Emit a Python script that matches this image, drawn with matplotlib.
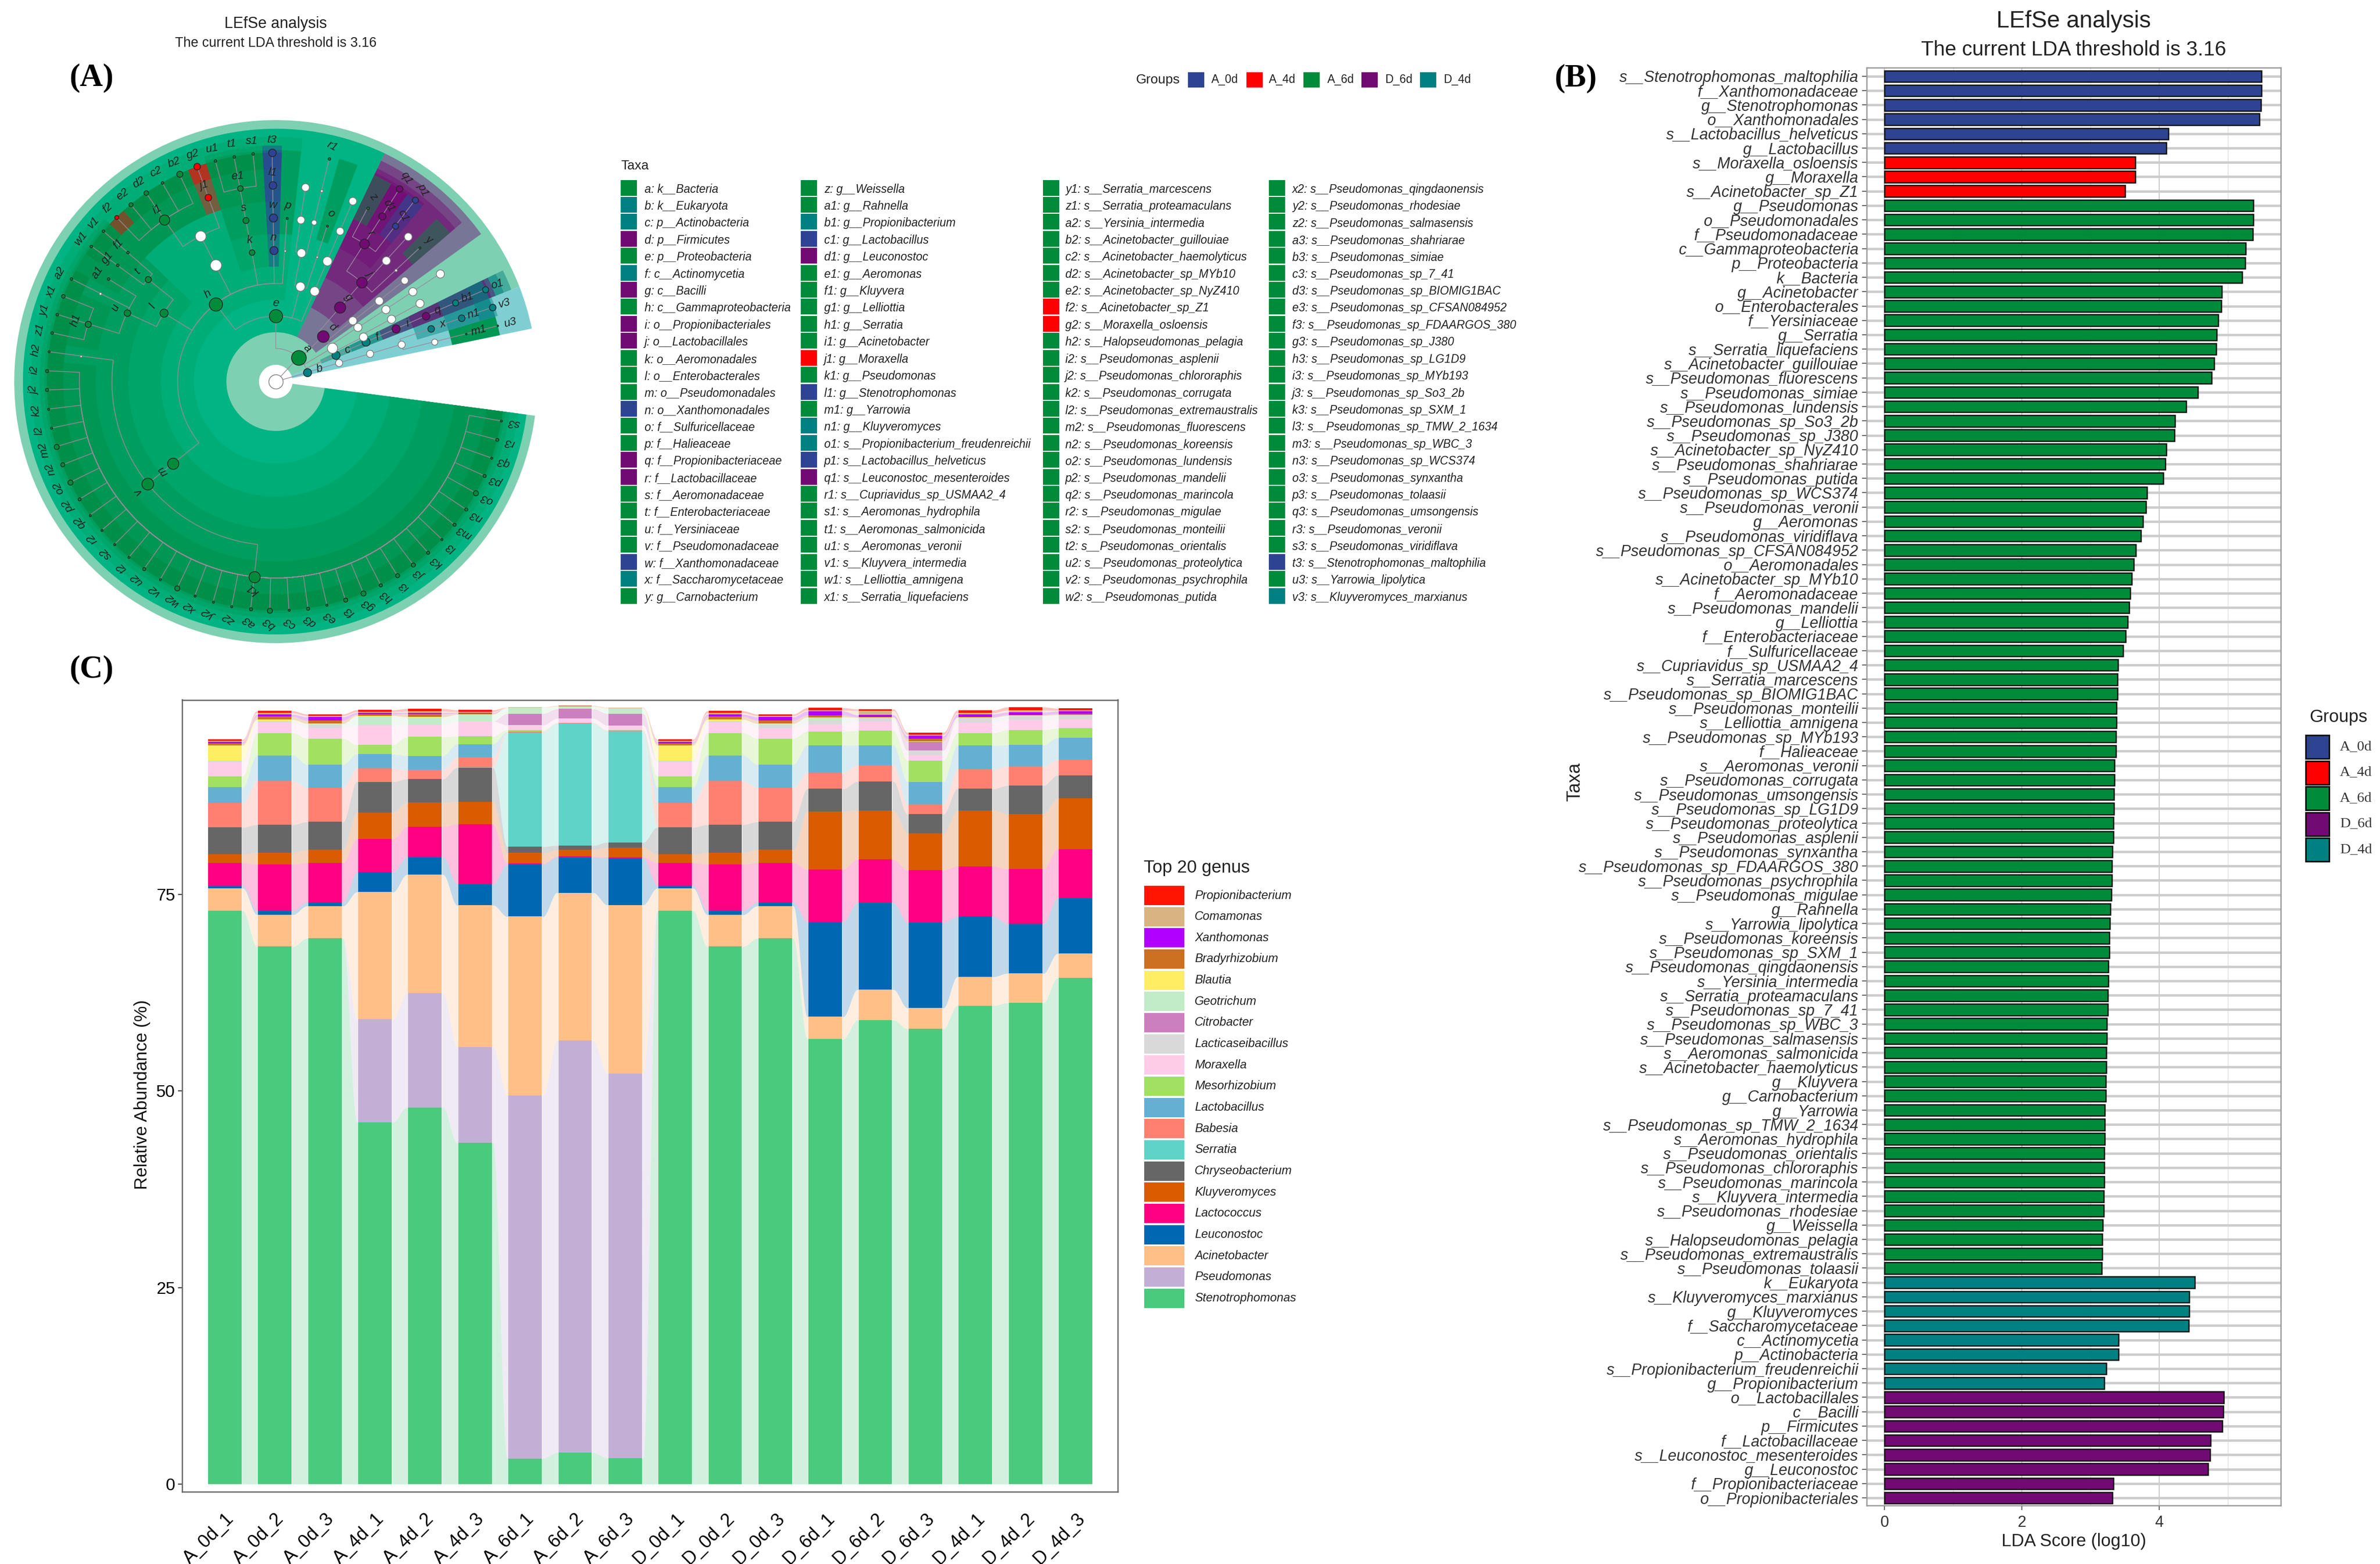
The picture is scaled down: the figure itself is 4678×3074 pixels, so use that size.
import matplotlib
matplotlib.use("Agg")
import matplotlib.pyplot as plt
from matplotlib.patches import Wedge, Rectangle
import numpy as np

W, H = 4678, 3074
plt.rcParams['font.family'] = ['Liberation Sans', 'DejaVu Sans']
NARROW = ['Liberation Sans Narrow', 'Liberation Sans', 'DejaVu Sans']
SERIF = ['Liberation Serif', 'DejaVu Serif']

group_names = ['A_0d', 'A_4d', 'A_6d', 'D_6d', 'D_4d']
group_colors = {'A_0d': '#2E4392', 'A_4d': '#FF0000', 'A_6d': '#008B3A',
                'D_6d': '#720A74', 'D_4d': '#008080'}
group_code = {'B': 'A_0d', 'R': 'A_4d', 'G': 'A_6d', 'P': 'D_6d', 'T': 'D_4d'}

# ---- panel B data, top bar first
lda_names_blue = ['s__Stenotrophomonas_maltophilia', 'f__Xanthomonadaceae', 'g__Stenotrophomonas',
                  'o__Xanthomonadales', 's__Lactobacillus_helveticus', 'g__Lactobacillus']
lda_vals_blue = [5.49, 5.485, 5.48, 5.46, 4.13, 4.10]
lda_names_red = ['s__Moraxella_osloensis', 'g__Moraxella', 's__Acinetobacter_sp_Z1']
lda_vals_red = [3.65, 3.65, 3.50]
lda_names_green = [
    'g__Pseudomonas', 'o__Pseudomonadales', 'f__Pseudomonadaceae', 'c__Gammaproteobacteria',
    'p__Proteobacteria', 'k__Bacteria', 'g__Acinetobacter', 'o__Enterobacterales', 'f__Yersiniaceae',
    'g__Serratia', 's__Serratia_liquefaciens', 's__Acinetobacter_guillouiae', 's__Pseudomonas_fluorescens',
    's__Pseudomonas_simiae', 's__Pseudomonas_lundensis', 's__Pseudomonas_sp_So3_2b', 's__Pseudomonas_sp_J380',
    's__Acinetobacter_sp_NyZ410', 's__Pseudomonas_shahriarae', 's__Pseudomonas_putida', 's__Pseudomonas_sp_WCS374',
    's__Pseudomonas_veronii', 'g__Aeromonas', 's__Pseudomonas_viridiflava', 's__Pseudomonas_sp_CFSAN084952',
    'o__Aeromonadales', 's__Acinetobacter_sp_MYb10', 'f__Aeromonadaceae', 's__Pseudomonas_mandelii', 'g__Lelliottia',
    'f__Enterobacteriaceae', 'f__Sulfuricellaceae', 's__Cupriavidus_sp_USMAA2_4', 's__Serratia_marcescens',
    's__Pseudomonas_sp_BIOMIG1BAC', 's__Pseudomonas_monteilii', 's__Lelliottia_amnigena', 's__Pseudomonas_sp_MYb193',
    'f__Halieaceae', 's__Aeromonas_veronii', 's__Pseudomonas_corrugata', 's__Pseudomonas_umsongensis',
    's__Pseudomonas_sp_LG1D9', 's__Pseudomonas_proteolytica', 's__Pseudomonas_asplenii', 's__Pseudomonas_synxantha',
    's__Pseudomonas_sp_FDAARGOS_380', 's__Pseudomonas_psychrophila', 's__Pseudomonas_migulae', 'g__Rahnella',
    's__Yarrowia_lipolytica', 's__Pseudomonas_koreensis', 's__Pseudomonas_sp_SXM_1', 's__Pseudomonas_qingdaonensis',
    's__Yersinia_intermedia', 's__Serratia_proteamaculans', 's__Pseudomonas_sp_7_41', 's__Pseudomonas_sp_WBC_3',
    's__Pseudomonas_salmasensis', 's__Aeromonas_salmonicida', 's__Acinetobacter_haemolyticus', 'g__Kluyvera',
    'g__Carnobacterium', 'g__Yarrowia', 's__Pseudomonas_sp_TMW_2_1634', 's__Aeromonas_hydrophila',
    's__Pseudomonas_orientalis', 's__Pseudomonas_chlororaphis', 's__Pseudomonas_marincola', 's__Kluyvera_intermedia',
    's__Pseudomonas_rhodesiae', 'g__Weissella', 's__Halopseudomonas_pelagia', 's__Pseudomonas_extremaustralis',
    's__Pseudomonas_tolaasii']
lda_vals_green = [
    5.37, 5.37, 5.365, 5.26, 5.25, 5.21, 4.91, 4.90, 4.86, 4.84, 4.83, 4.80, 4.76, 4.56, 4.39, 4.23, 4.22, 4.10, 4.09,
    4.06, 3.82, 3.81, 3.76, 3.73, 3.66, 3.63, 3.60, 3.58, 3.56, 3.54, 3.51, 3.47, 3.40, 3.39, 3.39, 3.38, 3.38, 3.37,
    3.37, 3.35, 3.35, 3.34, 3.34, 3.33, 3.33, 3.32, 3.31, 3.31, 3.30, 3.29, 3.28, 3.27, 3.27, 3.26, 3.26, 3.25, 3.25,
    3.24, 3.24, 3.23, 3.23, 3.22, 3.22, 3.21, 3.21, 3.21, 3.20, 3.20, 3.20, 3.19, 3.19, 3.18, 3.17, 3.17, 3.16]
lda_names_teal = ['k__Eukaryota', 's__Kluyveromyces_marxianus', 'g__Kluyveromyces', 'f__Saccharomycetaceae',
                  'c__Actinomycetia', 'p__Actinobacteria', 's__Propionibacterium_freudenreichii', 'g__Propionibacterium']
lda_vals_teal = [4.52, 4.44, 4.44, 4.43, 3.41, 3.41, 3.23, 3.20]
lda_names_purple = ['o__Lactobacillales', 'c__Bacilli', 'p__Firmicutes', 'f__Lactobacillaceae',
                    's__Leuconostoc_mesenteroides', 'g__Leuconostoc', 'f__Propionibacteriaceae', 'o__Propionibacteriales']
lda_vals_purple = [4.94, 4.93, 4.92, 4.75, 4.74, 4.71, 3.33, 3.32]

# ---- panel C data, cumulative tops of the stack for each sample (bottom genus first)
genus = ['Stenotrophomonas', 'Pseudomonas', 'Acinetobacter', 'Leuconostoc', 'Lactococcus', 'Kluyveromyces',
         'Chryseobacterium', 'Serratia', 'Babesia', 'Lactobacillus', 'Mesorhizobium', 'Moraxella',
         'Lacticaseibacillus', 'Citrobacter', 'Geotrichum', 'Blautia', 'Bradyrhizobium', 'Xanthomonas',
         'Comamonas', 'Propionibacterium']
genus_colors = ['#4ACA7C', '#C3AFD6', '#FFBF87', '#0068B2', '#FF0082', '#DA5B00', '#666666', '#5FD3C7', '#FF8070',
                '#64B0D3', '#A1E060', '#FFCCE8', '#D9D9D9', '#CC7FBF', '#C2EBC8', '#FFED63', '#CC7022', '#B000FF',
                '#D8B483', '#FF1500']
samples = ['A_0d_1', 'A_0d_2', 'A_0d_3', 'A_4d_1', 'A_4d_2', 'A_4d_3', 'A_6d_1', 'A_6d_2', 'A_6d_3',
           'D_0d_1', 'D_0d_2', 'D_0d_3', 'D_6d_1', 'D_6d_2', 'D_6d_3', 'D_4d_1', 'D_4d_2', 'D_4d_3']
top_A_0d_1 = [72.9, 72.9, 75.76, 76.1, 79.0, 80.1, 83.5, 83.5, 86.6, 88.6, 90.0, 91.8, 91.9, 91.9, 92.0, 93.95, 94.2, 94.4, 94.5, 94.7]
top_A_0d_2 = [68.35, 68.35, 72.4, 72.9, 78.8, 80.3, 83.85, 83.85, 89.4, 92.65, 95.5, 96.85, 97.0, 97.0, 97.05, 97.2, 97.6, 97.85, 98.07, 98.3]
top_A_0d_3 = [69.4, 69.4, 73.5, 73.97, 79.0, 80.65, 84.2, 84.2, 88.55, 91.5, 94.8, 96.15, 96.6, 96.6, 96.65, 96.7, 97.1, 97.55, 97.7, 97.9]
top_A_4d_1 = [46.0, 59.1, 75.27, 77.8, 82.05, 85.4, 89.3, 89.3, 91.0, 92.8, 94.0, 96.45, 96.5, 96.5, 97.65, 97.7, 97.87, 98.1, 98.2, 98.44]
top_A_4d_2 = [47.9, 62.43, 77.5, 79.75, 83.6, 86.67, 89.66, 89.66, 90.8, 92.6, 95.0, 96.5, 96.55, 96.55, 97.5, 97.54, 97.94, 98.1, 98.27, 98.6]
top_A_4d_3 = [43.4, 55.6, 73.6, 76.3, 83.9, 86.77, 91.1, 91.13, 92.45, 94.08, 95.08, 96.97, 97.0, 97.0, 97.85, 97.87, 98.0, 98.1, 98.2, 98.44]
top_A_6d_1 = [3.27, 49.4, 72.17, 78.8, 78.9, 80.25, 81.05, 95.55, 95.6, 95.65, 95.88, 96.45, 96.5, 97.97, 98.72, 98.74, 98.74, 98.74, 98.75, 98.77]
top_A_6d_2 = [4.02, 56.4, 75.2, 79.7, 79.8, 80.65, 81.2, 96.7, 96.75, 96.75, 96.8, 97.34, 97.36, 98.57, 98.87, 98.9, 98.9, 98.9, 98.92, 98.97]
top_A_6d_3 = [3.32, 52.2, 73.64, 79.6, 79.7, 80.95, 81.6, 95.75, 95.8, 95.8, 95.88, 96.45, 96.48, 97.97, 98.67, 98.68, 98.68, 98.68, 98.7, 98.74]
top_D_6d_1 = [56.6, 56.6, 59.44, 71.5, 78.16, 85.54, 88.4, 88.4, 90.46, 93.95, 95.7, 96.6, 97.07, 97.07, 97.5, 97.52, 97.77, 98.27, 98.4, 98.7]
top_D_6d_2 = [59.0, 59.0, 62.87, 73.94, 79.42, 85.67, 89.33, 89.33, 91.42, 93.95, 95.78, 96.94, 97.4, 97.4, 97.45, 97.47, 97.54, 97.8, 98.34, 98.54]
top_D_6d_3 = [57.9, 57.9, 60.54, 71.4, 78.06, 82.75, 85.17, 85.17, 86.44, 89.3, 92.02, 92.72, 93.3, 94.38, 94.4, 94.42, 94.8, 95.15, 95.3, 95.58]
top_D_4d_1 = [60.84, 60.84, 64.5, 72.17, 78.56, 85.67, 88.4, 88.4, 90.86, 93.9, 95.5, 96.84, 97.4, 97.4, 97.45, 97.47, 97.54, 97.9, 98.07, 98.4]
top_D_4d_2 = [61.2, 61.2, 64.93, 71.24, 78.2, 85.2, 88.83, 88.83, 91.29, 93.98, 95.9, 97.17, 97.67, 97.67, 97.7, 97.72, 97.84, 98.14, 98.4, 98.8]
top_D_4d_3 = [64.36, 64.36, 67.45, 74.53, 80.75, 87.2, 90.1, 90.1, 92.09, 94.88, 96.1, 97.24, 97.77, 97.77, 97.8, 97.82, 97.94, 98.27, 98.37, 98.64]
tops = np.array([top_A_0d_1, top_A_0d_2, top_A_0d_3, top_A_4d_1, top_A_4d_2, top_A_4d_3,
                 top_A_6d_1, top_A_6d_2, top_A_6d_3, top_A_0d_1, top_A_0d_2, top_A_0d_3,
                 top_D_6d_1, top_D_6d_2, top_D_6d_3, top_D_4d_1, top_D_4d_2, top_D_4d_3])

# ---- panel A legend
taxa_col1 = ['a: k__Bacteria', 'b: k__Eukaryota', 'c: p__Actinobacteria', 'd: p__Firmicutes', 'e: p__Proteobacteria',
             'f: c__Actinomycetia', 'g: c__Bacilli', 'h: c__Gammaproteobacteria', 'i: o__Propionibacteriales',
             'j: o__Lactobacillales', 'k: o__Aeromonadales', 'l: o__Enterobacterales', 'm: o__Pseudomonadales',
             'n: o__Xanthomonadales', 'o: f__Sulfuricellaceae', 'p: f__Halieaceae', 'q: f__Propionibacteriaceae',
             'r: f__Lactobacillaceae', 's: f__Aeromonadaceae', 't: f__Enterobacteriaceae', 'u: f__Yersiniaceae',
             'v: f__Pseudomonadaceae', 'w: f__Xanthomonadaceae', 'x: f__Saccharomycetaceae', 'y: g__Carnobacterium']
taxa_col1_groups = 'GTTPGTPGPPGGGBGGPPGGGGBTG'
taxa_col2 = ['z: g__Weissella', 'a1: g__Rahnella', 'b1: g__Propionibacterium', 'c1: g__Lactobacillus', 'd1: g__Leuconostoc',
             'e1: g__Aeromonas', 'f1: g__Kluyvera', 'g1: g__Lelliottia', 'h1: g__Serratia', 'i1: g__Acinetobacter',
             'j1: g__Moraxella', 'k1: g__Pseudomonas', 'l1: g__Stenotrophomonas', 'm1: g__Yarrowia', 'n1: g__Kluyveromyces',
             'o1: s__Propionibacterium_freudenreichii', 'p1: s__Lactobacillus_helveticus', 'q1: s__Leuconostoc_mesenteroides',
             'r1: s__Cupriavidus_sp_USMAA2_4', 's1: s__Aeromonas_hydrophila', 't1: s__Aeromonas_salmonicida',
             'u1: s__Aeromonas_veronii', 'v1: s__Kluyvera_intermedia', 'w1: s__Lelliottia_amnigena', 'x1: s__Serratia_liquefaciens']
taxa_col2_groups = 'GGTBPGGGGGRGBGTTBPGGGGGGG'
taxa_col3 = ['y1: s__Serratia_marcescens', 'z1: s__Serratia_proteamaculans', 'a2: s__Yersinia_intermedia',
             'b2: s__Acinetobacter_guillouiae', 'c2: s__Acinetobacter_haemolyticus', 'd2: s__Acinetobacter_sp_MYb10',
             'e2: s__Acinetobacter_sp_NyZ410', 'f2: s__Acinetobacter_sp_Z1', 'g2: s__Moraxella_osloensis',
             'h2: s__Halopseudomonas_pelagia', 'i2: s__Pseudomonas_asplenii', 'j2: s__Pseudomonas_chlororaphis',
             'k2: s__Pseudomonas_corrugata', 'l2: s__Pseudomonas_extremaustralis', 'm2: s__Pseudomonas_fluorescens',
             'n2: s__Pseudomonas_koreensis', 'o2: s__Pseudomonas_lundensis', 'p2: s__Pseudomonas_mandelii',
             'q2: s__Pseudomonas_marincola', 'r2: s__Pseudomonas_migulae', 's2: s__Pseudomonas_monteilii',
             't2: s__Pseudomonas_orientalis', 'u2: s__Pseudomonas_proteolytica', 'v2: s__Pseudomonas_psychrophila',
             'w2: s__Pseudomonas_putida']
taxa_col3_groups = 'GGGGGGGRRGGGGGGGGGGGGGGGG'
taxa_col4 = ['x2: s__Pseudomonas_qingdaonensis', 'y2: s__Pseudomonas_rhodesiae', 'z2: s__Pseudomonas_salmasensis',
             'a3: s__Pseudomonas_shahriarae', 'b3: s__Pseudomonas_simiae', 'c3: s__Pseudomonas_sp_7_41',
             'd3: s__Pseudomonas_sp_BIOMIG1BAC', 'e3: s__Pseudomonas_sp_CFSAN084952', 'f3: s__Pseudomonas_sp_FDAARGOS_380',
             'g3: s__Pseudomonas_sp_J380', 'h3: s__Pseudomonas_sp_LG1D9', 'i3: s__Pseudomonas_sp_MYb193',
             'j3: s__Pseudomonas_sp_So3_2b', 'k3: s__Pseudomonas_sp_SXM_1', 'l3: s__Pseudomonas_sp_TMW_2_1634',
             'm3: s__Pseudomonas_sp_WBC_3', 'n3: s__Pseudomonas_sp_WCS374', 'o3: s__Pseudomonas_synxantha',
             'p3: s__Pseudomonas_tolaasii', 'q3: s__Pseudomonas_umsongensis', 'r3: s__Pseudomonas_veronii',
             's3: s__Pseudomonas_viridiflava', 't3: s__Stenotrophomonas_maltophilia', 'u3: s__Yarrowia_lipolytica',
             'v3: s__Kluyveromyces_marxianus']
taxa_col4_groups = 'GGGGGGGGGGGGGGGGGGGGGGBGT'

# ---- cladogram: highlighted clades (rank, first tip, last tip, group)
clades = [
    (1, 2, 70, 'A_6d'), (1, 0, 1, 'D_4d'),
    (2, 11, 70, 'A_6d'), (2, 5, 10, 'D_6d'), (2, 2, 2, 'D_4d'),
    (3, 15, 70, 'A_6d'), (3, 6, 10, 'D_6d'), (3, 2, 2, 'D_4d'),
    (4, 33, 70, 'A_6d'), (4, 26, 32, 'A_6d'), (4, 17, 19, 'A_6d'), (4, 6, 10, 'D_6d'), (4, 2, 2, 'D_6d'), (4, 16, 16, 'A_0d'),
    (5, 33, 70, 'A_6d'), (5, 28, 32, 'A_6d'), (5, 26, 27, 'A_6d'), (5, 17, 19, 'A_6d'), (5, 15, 15, 'A_6d'), (5, 12, 12, 'A_6d'),
    (5, 8, 10, 'D_6d'), (5, 2, 2, 'D_6d'), (5, 16, 16, 'A_0d'), (5, 1, 1, 'D_4d'),
    (6, 34, 70, 'A_6d'), (6, 30, 32, 'A_6d'), (6, 28, 28, 'A_6d'), (6, 26, 27, 'A_6d'), (6, 21, 25, 'A_6d'), (6, 17, 19, 'A_6d'),
    (6, 10, 10, 'A_6d'), (6, 6, 6, 'A_6d'), (6, 0, 0, 'A_6d'), (6, 20, 20, 'A_4d'), (6, 16, 16, 'A_0d'), (6, 9, 9, 'D_6d'),
    (6, 8, 8, 'A_0d'), (6, 2, 2, 'D_4d'), (6, 1, 1, 'D_4d'),
    (7, 34, 70, 'A_6d'), (7, 29, 33, 'A_6d'), (7, 26, 27, 'A_6d'), (7, 21, 24, 'A_6d'), (7, 17, 19, 'A_6d'), (7, 25, 25, 'A_4d'),
    (7, 20, 20, 'A_4d'), (7, 16, 16, 'A_0d'), (7, 9, 9, 'D_6d'), (7, 8, 8, 'A_0d'), (7, 2, 2, 'D_4d'), (7, 1, 1, 'D_4d'),
]

# cladogram nodes: label ('_' means no text), rank, tip position, parent, group, radius in px
species_k1 = ['i2', 'j2', 'k2', 'l2', 'm2', 'n2', 'o2', 'p2', 'q2', 'r2', 's2', 't2', 'u2', 'v2', 'w2', 'x2', 'y2', 'z2',
              'a3', 'b3', 'c3', 'd3', 'e3', 'f3', 'g3', 'h3', 'i3', 'j3', 'k3', 'l3', 'm3', 'n3', 'o3', 'p3', 'q3', 'r3', 's3']
species_k1_size = [3, 3, 2, 2, 5, 4, 5, 3, 2, 2, 2, 2, 3, 2, 5, 2, 2, 2, 3, 5, 2, 3, 2, 4, 5, 3, 4, 4, 3, 2, 3, 3, 5, 3, 2, 3, 2]
nodes = [
    ('_root', 0, 0, None, 'none', 14),
    ('a', 1, 6.8, '_root', 'A_6d', 14.5), ('b', 1, 0.4, '_root', 'D_4d', 8),
    ('_p1', 2, 0.5, 'b', 'none', 7), ('_c1', 3, 0.5, '_p1', 'none', 7), ('_o1', 4, 0.5, '_c1', 'none', 7),
    ('_f1', 5, 0, '_o1', 'none', 6), ('x', 5, 1, '_o1', 'D_4d', 6.5), ('m1', 6, 0, '_f1', 'A_6d', 1.5),
    ('u3', 7, 0, 'm1', 'A_6d', 1.5), ('n1', 6, 1, 'x', 'D_4d', 6.5), ('v3', 7, 1, 'n1', 'D_4d', 6.5),
    ('c', 2, 2, 'a', 'D_4d', 8), ('f', 3, 2, 'c', 'D_4d', 8), ('i', 4, 2, 'f', 'D_6d', 8), ('q', 5, 2, 'i', 'D_6d', 7.5),
    ('b1', 6, 2, 'q', 'D_4d', 6), ('o1', 7, 2, 'b1', 'D_4d', 6),
    ('_p2', 2, 3.5, 'a', 'none', 10),
    ('_c3', 3, 2.7, '_p2', 'none', 8), ('_o3', 4, 3, '_c3', 'none', 8), ('_f3', 5, 3, '_o3', 'none', 8),
    ('_c4', 3, 4.05, '_p2', 'none', 8), ('_o4', 4, 4, '_c4', 'none', 8), ('_f4', 5, 4, '_o4', 'none', 8), ('_g4', 6, 4, '_f4', 'none', 8),
    ('_c5', 3, 5.1, '_p2', 'none', 8), ('_o5', 4, 5, '_c5', 'none', 8), ('_f5', 5, 5, '_o5', 'none', 7),
    ('d', 2, 6.2, 'a', 'D_6d', 11.5), ('g', 3, 7.3, 'd', 'D_6d', 11), ('j', 4, 7.3, 'g', 'D_6d', 10.5),
    ('_f6', 5, 6, 'j', 'none', 2.5), ('y', 6, 6, '_f6', 'A_6d', 2), ('_f7', 5, 7, 'j', 'none', 8), ('_g7', 6, 7, '_f7', 'none', 7.5),
    ('r', 5, 9, 'j', 'D_6d', 9.5), ('c1', 6, 8, 'r', 'A_0d', 6), ('p1', 7, 8, 'c1', 'A_0d', 6), ('d1', 6, 9, 'r', 'D_6d', 7),
    ('q1', 7, 9, 'd1', 'D_6d', 6.5), ('z', 6, 10, 'r', 'A_6d', 2.5),
    ('e', 2, 15.8, 'a', 'A_6d', 13),
    ('_c11', 3, 11, 'e', 'none', 9), ('_o11', 4, 11, '_c11', 'none', 9), ('_f11', 5, 11, '_o11', 'none', 7.5), ('_g11', 6, 11, '_f11', 'none', 7.5),
    ('_c13', 3, 12.8, 'e', 'none', 9), ('_o12', 4, 12, '_c13', 'none', 2), ('o', 5, 12, '_o12', 'A_6d', 2),
    ('_o13', 4, 13.5, '_c13', 'none', 8.5), ('_f13', 5, 13, '_o13', 'none', 5), ('_g13', 6, 13, '_f13', 'none', 2.5), ('r1', 7, 13, '_g13', 'A_6d', 2.5),
    ('_f14', 5, 14, '_o13', 'none', 7.5), ('_g14', 6, 14, '_f14', 'none', 7.5),
    ('h', 3, 23.7, 'e', 'A_6d', 13),
    ('_o15', 4, 15, 'h', 'none', 2), ('p', 5, 15, '_o15', 'A_6d', 2),
    ('n', 4, 16, 'h', 'A_0d', 8), ('w', 5, 16, 'n', 'A_0d', 8), ('l1', 6, 16, 'w', 'A_0d', 7.5), ('t3', 7, 16, 'l1', 'A_0d', 7.5),
    ('k', 4, 18, 'h', 'A_6d', 5.5), ('s', 5, 18, 'k', 'A_6d', 6), ('e1', 6, 18, 's', 'A_6d', 5.5),
    ('s1', 7, 17, 'e1', 'A_6d', 2.5), ('t1', 7, 18, 'e1', 'A_6d', 2.5), ('u1', 7, 19, 'e1', 'A_6d', 2.5),
    ('_o21', 4, 21.5, 'h', 'none', 11), ('_f21', 5, 21.5, '_o21', 'none', 10.5),
    ('j1', 6, 20, '_f21', 'A_4d', 6.5), ('g2', 7, 20, 'j1', 'A_4d', 6.5), ('i1', 6, 23, '_f21', 'A_6d', 10),
    ('b2', 7, 21, 'i1', 'A_6d', 6), ('c2', 7, 22, 'i1', 'A_6d', 2.5), ('d2', 7, 23, 'i1', 'A_6d', 4.5), ('e2', 7, 24, 'i1', 'A_6d', 4), ('f2', 7, 25, 'i1', 'A_4d', 4),
    ('l', 4, 28, 'h', 'A_6d', 8), ('t', 5, 26.5, 'l', 'A_6d', 6), ('f1', 6, 26, 't', 'A_6d', 2.5), ('v1', 7, 26, 'f1', 'A_6d', 2.5),
    ('g1', 6, 27, 't', 'A_6d', 2.5), ('w1', 7, 27, 'g1', 'A_6d', 2.5),
    ('u', 5, 29.4, 'l', 'A_6d', 6.5), ('a1', 6, 28, 'u', 'A_6d', 2.5), ('_g29', 6, 29, 'u', 'none', 2.5), ('a2', 7, 29, '_g29', 'A_6d', 2.5),
    ('h1', 6, 31, 'u', 'A_6d', 6), ('x1', 7, 30, 'h1', 'A_6d', 3.5), ('y1', 7, 31, 'h1', 'A_6d', 2.5), ('z1', 7, 32, 'h1', 'A_6d', 2.5),
    ('m', 4, 42.6, 'h', 'A_6d', 11), ('v', 5, 42.6, 'm', 'A_6d', 11.5), ('_g33', 6, 33, 'v', 'none', 2), ('h2', 7, 33, '_g33', 'A_6d', 2),
    ('k1', 6, 52, 'v', 'A_6d', 11),
]
for i, nm in enumerate(species_k1):
    nodes.append((nm, 7, 34 + i, 'k1', 'A_6d', species_k1_size[i]))


def px_axes(l, t, r, b):
    return fig.add_axes([l / W, 1 - b / H, (r - l) / W, (b - t) / H])


def tip_angle(pos):
    return 14.1 + 4.8 * pos


fig = plt.figure(figsize=(W / 100, H / 100), dpi=100, facecolor='white')

# page axes in pixels for titles and hand placed legends
bg = fig.add_axes([0, 0, 1, 1])
bg.set_xlim(0, W)
bg.set_ylim(H, 0)
bg.axis('off')

# ---------------- panel A: cladogram
RANK_R = [0, 65, 129, 193, 258, 322, 386, 450]
RANK_OUT = [0, 514, 497, 481, 464, 455, 450, 450]
GREEN_RAMP = [None, '#7ED0B2', '#00B483', '#00AD76', '#00A56A', '#009E5E', '#009653', '#008F49']

clad = px_axes(0, 200, 1100, 1300)
clad.set_xlim(-542, 558)
clad.set_ylim(-550, 550)
clad.axis('off')

for rank, p0, p1, grp in sorted(clades, key=lambda c: c[0]):
    inner = RANK_R[rank] - 32
    outer = RANK_OUT[rank]
    if grp == 'A_6d' and not (5 <= p0 <= 10):
        fc, al = GREEN_RAMP[rank], 1.0
    elif rank == 1:
        fc, al = '#7FCFD2', 1.0
    else:
        fc, al = group_colors[grp], 0.45
    clad.add_patch(Wedge((0, 0), outer, tip_angle(p0 - 0.5), tip_angle(p1 + 0.5), width=outer - inner,
                         facecolor=fc, alpha=al, linewidth=0, zorder=rank))

node_by_name = {n[0]: n for n in nodes}


def node_xy(rank, pos):
    a = np.radians(tip_angle(pos))
    return RANK_R[rank] * np.cos(a), RANK_R[rank] * np.sin(a)


for name, rank, pos, parent, grp, size in nodes:
    if parent is None:
        continue
    pr = node_by_name[parent]
    arc = np.radians(np.linspace(tip_angle(pr[2]), tip_angle(pos), 30))
    rad = RANK_R[pr[1]]
    xs = list(rad * np.cos(arc)) + [node_xy(rank, pos)[0]]
    ys = list(rad * np.sin(arc)) + [node_xy(rank, pos)[1]]
    clad.plot(xs, ys, color='#9C8A9E', lw=1.0, zorder=10, solid_capstyle='round')

label_angles = [0, 14, 25, 53, 91, 134, 177, 197, 221, 263, 310, 350, 360]
label_rot = [10, 15, 18, -65, -5, 42, 88, 105, 130, 140, 140, 170, 180]
for name, rank, pos, parent, grp, size in nodes:
    x, y = node_xy(rank, pos)
    fc = 'white' if grp == 'none' else group_colors[grp]
    ec = '#777777' if grp == 'none' else '#222222'
    clad.scatter([x], [y], s=(2 * size * 0.72) ** 2, facecolor=fc, edgecolor=ec, linewidth=1.0, zorder=12)
    if name.startswith('_'):
        continue
    ang = tip_angle(pos)
    lr = RANK_R[rank] + 25
    clad.text(lr * np.cos(np.radians(ang)), lr * np.sin(np.radians(ang)), name, fontsize=16, style='italic',
              color='#222222', ha='center', va='center', rotation=np.interp(ang, label_angles, label_rot),
              rotation_mode='anchor', zorder=13)

bg.text(542, 47, 'LEfSe analysis', fontsize=22, color='#222222', ha='center', va='center')
bg.text(542, 85, 'The current LDA threshold is 3.16', fontsize=19.2, color='#222222', ha='center', va='center')

bg.text(2233, 157, 'Groups', fontsize=19, color='#222222', ha='left', va='center')
for sw_x, txt_x, g in zip([2335, 2450, 2562, 2676, 2791], [2381, 2494, 2609, 2722, 2837], group_names):
    bg.add_patch(Rectangle((sw_x, 142), 32, 30, facecolor=group_colors[g], edgecolor='none'))
    bg.text(txt_x, 157, g, fontsize=16.3, color='#222222', ha='left', va='center')

bg.text(1220, 326, 'Taxa', fontsize=18.6, color='#222222', ha='left', va='center')
taxa_columns = [(taxa_col1, taxa_col1_groups, 1220, 1267), (taxa_col2, taxa_col2_groups, 1574, 1620),
                (taxa_col3, taxa_col3_groups, 2050, 2094), (taxa_col4, taxa_col4_groups, 2494, 2540)]
for names, codes, sw_x, txt_x in taxa_columns:
    for row, (nm, code) in enumerate(zip(names, codes)):
        yc = 369 + 33.42 * row
        bg.add_patch(Rectangle((sw_x, yc - 15.5), 32, 31, facecolor=group_colors[group_code[code]], edgecolor='none'))
        bg.text(txt_x, yc + 3, nm, fontsize=16.3, style='italic', color='#222222', ha='left', va='center')

bg.text(180, 153, '(A)', fontsize=45, fontweight='bold', family=SERIF, ha='center', va='center', color='black')
bg.text(3097, 154, '(B)', fontsize=45, fontweight='bold', family=SERIF, ha='center', va='center', color='black')
bg.text(180, 1316, '(C)', fontsize=45, fontweight='bold', family=SERIF, ha='center', va='center', color='black')

# ---------------- panel C: stacked bars with flows
axc = px_axes(358, 1375.5, 2197, 2931.6)
x = np.arange(len(samples))
bar_w = 0.67
bottoms = np.hstack([np.zeros((len(samples), 1)), tops[:, :-1]])
heights = tops - bottoms
for k, name in enumerate(genus):
    axc.bar(x, heights[:, k], bottom=bottoms[:, k], width=bar_w, color=genus_colors[k], linewidth=0, zorder=3)
    for i in range(len(samples) - 1):
        xs = np.linspace(x[i] + bar_w / 2, x[i + 1] - bar_w / 2, 40)
        t = np.clip((xs - xs[0]) / (xs[-1] - xs[0]) * 1.2 - 0.1, 0, 1)
        s = t * t * (3 - 2 * t)
        low = bottoms[i, k] + (bottoms[i + 1, k] - bottoms[i, k]) * s
        upp = tops[i, k] + (tops[i + 1, k] - tops[i, k]) * s
        axc.fill_between(xs, low, upp, color=genus_colors[k], alpha=0.25, linewidth=0, zorder=2)
axc.set_xlim((358 - 442) / 98.35, (2197 - 442) / 98.35)
axc.set_ylim(-0.94, 99.72)
axc.set_yticks([0, 25, 50, 75])
axc.set_xticks(x)
axc.set_xticklabels(samples, rotation=45, ha='right', va='top', rotation_mode='anchor')
axc.tick_params(axis='y', labelsize=24, length=6, width=1.6, color='#444444', pad=4)
axc.tick_params(axis='x', labelsize=26, length=0, pad=26)
for sp in axc.spines.values():
    sp.set_color('#666666')
    sp.set_linewidth(1.8)
bg.text(279, 2151, 'Relative Abundance (%)', fontsize=25, color='#111111', ha='center', va='center', rotation=90)

bg.text(2248, 1705, 'Top 20 genus', fontsize=25, color='#222222', ha='left', va='center')
for row, k in enumerate(range(len(genus) - 1, -1, -1)):
    yc = 1760 + 41.66 * row
    bg.add_patch(Rectangle((2249, yc - 19), 79, 38, facecolor=genus_colors[k], edgecolor='none'))
    bg.text(2348, yc, genus[k], fontsize=17, style='italic', color='#222222', ha='left', va='center')

# ---------------- panel B: LDA bars
lda_names = lda_names_blue + lda_names_red + lda_names_green + lda_names_teal + lda_names_purple
lda_vals = lda_vals_blue + lda_vals_red + lda_vals_green + lda_vals_teal + lda_vals_purple
lda_groups = (['A_0d'] * len(lda_vals_blue) + ['A_4d'] * len(lda_vals_red) + ['A_6d'] * len(lda_vals_green)
              + ['D_4d'] * len(lda_vals_teal) + ['D_6d'] * len(lda_vals_purple))

axb = px_axes(3669, 133, 4483, 2959)
yy = np.arange(len(lda_vals))
axb.barh(yy, lda_vals, height=0.8, color=[group_colors[g] for g in lda_groups], edgecolor='#111111', linewidth=1.8, zorder=3)
axb.set_xlim(-0.26, 5.77)
axb.set_ylim(99.53, -0.6)
axb.set_yticks(yy)
axb.set_yticklabels(lda_names, family=NARROW, style='italic', color='#333333')
axb.set_xticks([0, 2, 4])
axb.set_xticks([1, 3, 5], minor=True)
axb.set_xticklabels(['0', '2', '4'], family=NARROW, color='#333333')
axb.tick_params(axis='y', labelsize=22, length=6.5, width=1.5, color='#666666', pad=5)
axb.tick_params(axis='x', which='major', labelsize=22, length=6.5, width=1.5, color='#666666', pad=7)
axb.tick_params(axis='x', which='minor', length=0)
axb.set_axisbelow(True)
axb.grid(axis='y', color='#CCCCCC', linewidth=3.4, zorder=0)
axb.grid(axis='x', which='major', color='#CCCCCC', linewidth=1.6, zorder=0)
axb.grid(axis='x', which='minor', color='#DDDDDD', linewidth=1.0, zorder=0)
for sp in axb.spines.values():
    sp.set_color('#999999')
    sp.set_linewidth(1.8)

bg.text(4076, 42, 'LEfSe analysis', fontsize=33, family=NARROW, color='#222222', ha='center', va='center')
bg.text(4076, 98, 'The current LDA threshold is 3.16', fontsize=29, family=NARROW, color='#222222', ha='center', va='center')
bg.text(4076, 3029, 'LDA Score (log10)', fontsize=25, family=NARROW, color='#222222', ha='center', va='center')
bg.text(3096, 1537, 'Taxa', fontsize=26, family=NARROW, color='#222222', ha='center', va='center', rotation=90)

bg.text(4596, 1410, 'Groups', fontsize=25, color='#222222', ha='center', va='center')
for row, g in enumerate(group_names):
    yc = 1468 + 50.5 * row
    bg.add_patch(Rectangle((4532, yc - 23), 46, 46, facecolor=group_colors[g], edgecolor='#111111', linewidth=2.2))
    bg.text(4599, yc, g, fontsize=20.5, family=SERIF, color='#333333', ha='left', va='center')

fig.savefig('out.png', dpi=100)
